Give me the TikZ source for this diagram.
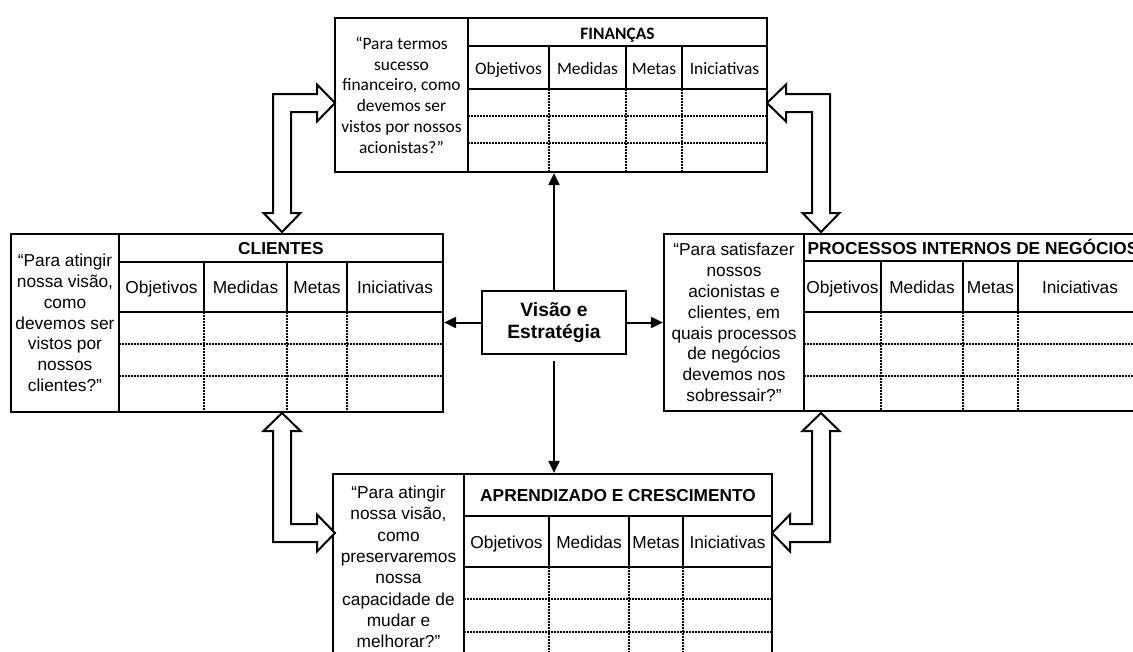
\documentclass[tikz,border=0pt]{standalone}
\usepackage{fontspec}
\setmainfont{Liberation Sans}
\newfontfamily\calfont{Carlito}
\usetikzlibrary{arrows.meta}
\tikzset{
  boxline/.style={line width=2.2pt},
  dotline/.style={line width=1.5pt, dash pattern=on 1.5pt off 1.5pt},
  thinarrow/.style={line width=2pt, -{Triangle[length=12pt,width=11pt]}},
  blockarrow/.style={line width=2pt, fill=white, line join=miter},
  frame/.style={draw, line width=2.2pt, inner sep=0pt},
  ar/.style={font=\fontsize{17.3}{20.8}\selectfont, inner sep=0pt, align=center},
  arb/.style={font=\bfseries\fontsize{17.3}{20.8}\selectfont, inner sep=0pt, align=center},
  cb/.style={font=\calfont\fontsize{17.4}{20.8}\selectfont, inner sep=0pt, align=center},
  cbb/.style={font=\calfont\bfseries\fontsize{17.4}{20.8}\selectfont, inner sep=0pt, align=center},
  bl/.style={anchor=base},
}
\begin{document}
\begin{tikzpicture}[x=1pt,y=-1pt]
\useasboundingbox (0,0) rectangle (1133,651);
\clip (0,0) rectangle (1133,651);
\fill[white] (0,0) rectangle (1133,651);

% ---------- frames (named nodes) ----------
\node[frame, minimum width=432pt, minimum height=154pt] (fin) at (551,95) {};
\node[frame, minimum width=432pt, minimum height=178pt] (cli) at (227,323) {};
\node[frame, minimum width=478pt, minimum height=177pt] (proc) at (903,322.5) {};
\node[frame, minimum width=439pt, minimum height=193pt] (apr) at (552.5,570.5) {};
\node[frame, minimum width=144pt, minimum height=63pt, font=\bfseries\fontsize{19.3}{22}\selectfont, align=center] (vis) at (554,322.5) {Visão e\\Estratégia};

% ---------- FINANÇAS ----------
\draw[boxline] (468,18) -- (468,172);
\draw[boxline] (468,46) -- (767,46);
\draw[boxline] (468,89) -- (767,89);
\foreach \c in {549,626,682} {
  \draw[boxline] (\c,46) -- (\c,89);
  \draw[dotline] (\c,89) -- (\c,172);
}
\foreach \d in {116,143} \draw[dotline] (468,\d) -- (767,\d);
\node[cbb,bl] (fint) at (617.5,39) {FINANÇAS};
\node[cb,bl] (finh1) at (508.5,74.5) {Objetivos};
\node[cb,bl] (finh2) at (587.5,74.5) {Medidas};
\node[cb,bl] (finh3) at (654,74.5) {Metas};
\node[cb,bl] (finh4) at (724.5,74.5) {Iniciativas};
\node[cb] (finq) at (401.5,95) {“Para termos\\sucesso\\financeiro, como\\devemos ser\\vistos por nossos\\acionistas?”};

% ---------- CLIENTES ----------
\draw[boxline] (119,234) -- (119,412);
\draw[boxline] (119,262) -- (443,262);
\draw[boxline] (119,312) -- (443,312);
\foreach \c in {204,287,347} {
  \draw[boxline] (\c,262) -- (\c,312);
  \draw[dotline] (\c,312) -- (\c,412);
}
\foreach \d in {344,376} \draw[dotline] (119,\d) -- (443,\d);
\node[arb,bl] (clit) at (281,254.5) {CLIENTES};
\node[ar,bl] (clih1) at (161.5,293.5) {Objetivos};
\node[ar,bl] (clih2) at (245.5,293.5) {Medidas};
\node[ar,bl] (clih3) at (317,293.5) {Metas};
\node[ar,bl] (clih4) at (395,293.5) {Iniciativas};
\node[ar] (cliq) at (65,323) {“Para atingir\\nossa visão,\\como\\devemos ser\\vistos por\\nossos\\clientes?”};

% ---------- PROCESSOS INTERNOS ----------
\draw[boxline] (804,234) -- (804,411);
\draw[boxline] (804,261) -- (1142,261);
\draw[boxline] (804,312) -- (1142,312);
\foreach \c in {881,963,1018} {
  \draw[boxline] (\c,261) -- (\c,312);
  \draw[dotline] (\c,312) -- (\c,411);
}
\foreach \d in {344,376} \draw[dotline] (804,\d) -- (1142,\d);
\node[arb,bl] (proct) at (973,254.5) {PROCESSOS INTERNOS DE NEGÓCIOS};
\node[ar,bl] (proch1) at (842.5,293.5) {Objetivos};
\node[ar,bl] (proch2) at (922,293.5) {Medidas};
\node[ar,bl] (proch3) at (990.5,293.5) {Metas};
\node[ar,bl] (proch4) at (1080,293.5) {Iniciativas};
\node[ar] (procq) at (734,322.5) {“Para satisfazer\\nossos\\acionistas e\\clientes, em\\quais processos\\de negócios\\devemos nos\\sobressair?”};

% ---------- APRENDIZADO ----------
\draw[boxline] (464,474) -- (464,667);
\draw[boxline] (464,516) -- (772,516);
\draw[boxline] (464,567) -- (772,567);
\foreach \c in {549,629,683} {
  \draw[boxline] (\c,516) -- (\c,567);
  \draw[dotline] (\c,567) -- (\c,667);
}
\foreach \d in {599,632} \draw[dotline] (464,\d) -- (772,\d);
\node[arb,bl] (aprt) at (618,501.5) {APRENDIZADO E CRESCIMENTO};
\node[ar,bl] (aprh1) at (506.5,548) {Objetivos};
\node[ar,bl] (aprh2) at (589,548) {Medidas};
\node[ar,bl] (aprh3) at (656,548) {Metas};
\node[ar,bl] (aprh4) at (727.5,548) {Iniciativas};
\node[ar, font=\fontsize{17.3}{21.3}\selectfont] (aprq) at (398.5,567) {“Para atingir\\nossa visão,\\como\\preservaremos\\nossa\\capacidade de\\mudar e\\melhorar?”};

% ---------- thin arrows from the centre ----------
\draw[thinarrow] (vis.north) -- (vis.north |- fin.south);
\draw[thinarrow] (vis.west) -- (vis.west -| cli.east);
\draw[thinarrow] (vis.east) -- (vis.east -| proc.west);
\draw[thinarrow, shorten <=6pt] (vis.south) -- (vis.south |- apr.north);

% ---------- hollow block arrows ----------
% top-left: CLIENTES <-> FINANÇAS
\draw[blockarrow] (335,103) -- (317,84.5) -- (317,94) -- (273,94) -- (273,213)
  -- (263.5,213) -- (282,232) -- (300.5,213) -- (291,213) -- (291,112)
  -- (317,112) -- (317,121.5) -- cycle;
% top-right: FINANÇAS <-> PROCESSOS
\draw[blockarrow] (767,103) -- (786,84.5) -- (786,94) -- (830,94) -- (830,213)
  -- (839.5,213) -- (821,232) -- (802.5,213) -- (812,213) -- (812,112)
  -- (786,112) -- (786,121.5) -- cycle;
% bottom-left: CLIENTES <-> APRENDIZADO
\draw[blockarrow] (282,413) -- (300.5,431) -- (291,431) -- (291,524) -- (317,524)
  -- (317,514.5) -- (335,533) -- (317,551.5) -- (317,542) -- (273,542)
  -- (273,431) -- (263.5,431) -- cycle;
% bottom-right: PROCESSOS <-> APRENDIZADO
\draw[blockarrow] (821,413) -- (839.5,431) -- (830,431) -- (830,542) -- (790,542)
  -- (790,551.5) -- (772,533) -- (790,514.5) -- (790,524) -- (812,524)
  -- (812,431) -- (802.5,431) -- cycle;
\end{tikzpicture}
\end{document}
